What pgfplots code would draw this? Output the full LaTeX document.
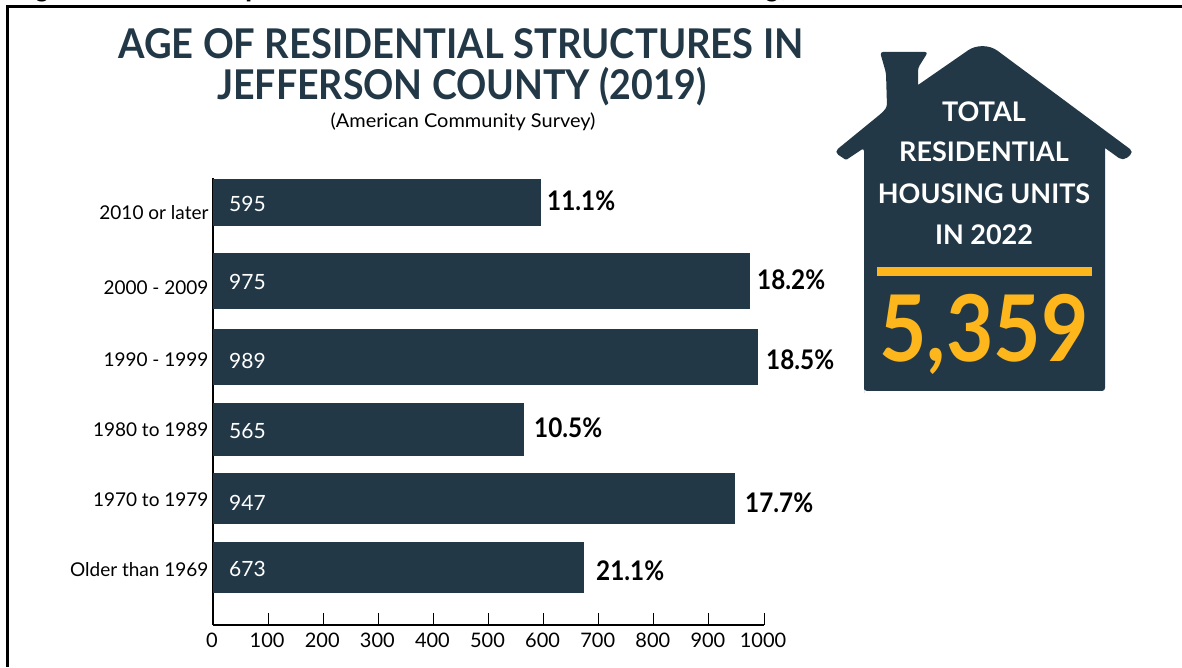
\documentclass[border=0pt]{standalone}
\usepackage{pgfplots}
\pgfplotsset{compat=1.18}
\usepackage{fontspec}
\setmainfont{Lato}
\newfontfamily\figfont{Liberation Sans}[BoldFont={Liberation Sans Bold}]
\definecolor{navy}{HTML}{223847}
\definecolor{gold}{HTML}{FDB71C}
\newcommand{\fs}[1]{\fontsize{#1}{#1}\selectfont}
\begin{document}
\begin{tikzpicture}
\path[use as bounding box] (0,0) rectangle (1182pt,667pt);
\begin{axis}[
  at={(213pt,42pt)}, anchor=south west,
  scale only axis, width=551pt, height=447pt,
  xmin=0, xmax=1000, ymin=178, ymax=625, y dir=reverse,
  axis x line=bottom, axis y line=left,
  axis line style={-, black, line width=1.2pt},
  xtick={0,100,...,1000},
  tick align=inside, major tick length=12pt,
  x tick style={black, line width=1pt},
  y tick style={draw=none},
  ytick={213,288,360,430,500,570},
  yticklabels={2010 or later,2000 - 2009,1990 - 1999,1980 to 1989,1970 to 1979,Older than 1969},
  yticklabel style={font=\fs{19}, xshift=-1pt},
  xticklabel style={font=\fs{20}, yshift=-4pt, xshift=-1pt},
  /pgf/number format/assume math mode=true,
  /pgf/number format/1000 sep={},
  clip=false,
  every axis plot/.append style={xbar, bar shift=0pt, fill=navy, draw=none},
]
\addplot[bar width=47pt] coordinates {(595,202.5)};
\addplot[bar width=56pt] coordinates {(975,281)};
\addplot[bar width=56pt] coordinates {(989,357)};
\addplot[bar width=53pt] coordinates {(565,429.5)};
\addplot[bar width=51pt] coordinates {(947,498.5)};
\addplot[bar width=51pt] coordinates {(673,567.5)};
\end{axis}

\begin{scope}[x=1pt,y=-1pt,yshift=667pt]
% heading rule and side rule
\draw[black, line width=2.4pt] (1182,6.5) -- (7.5,6.5) -- (7.5,667);
% descenders of the running head, cut by the page edge
\begin{scope}
\clip (0,0) rectangle (1182,5);
\node[anchor=base west, inner sep=0pt, font=\figfont\bfseries\fs{26}] at (34,-3) {g};
\node[anchor=base west, inner sep=0pt, font=\figfont\bfseries\fs{26}] at (245,-3) {p};
\node[anchor=base west, inner sep=0pt, font=\figfont\bfseries\fs{26}] at (764,-3) {g,};
\end{scope}
% headline
\node[anchor=base, inner sep=0pt, text=navy, font=\bfseries\fs{41}] at (461,59) {\scalebox{0.93}[1]{AGE OF RESIDENTIAL STRUCTURES IN}};
\node[anchor=base, inner sep=0pt, text=navy, font=\bfseries\fs{41}] at (462,100) {\scalebox{0.915}[1]{JEFFERSON COUNTY (2019)}};
\node[anchor=base, inner sep=0pt, font=\fs{19}] at (463,128) {\scalebox{1.05}[1]{(American Community Survey)}};
% counts inside the bars
\foreach \t/\y in {595/212,975/290,989/369,565/438,947/510,673/576}
  \node[anchor=base west, inner sep=0pt, text=white, font=\fs{21}] at (229,\y) {\t};
% shares beside the bars
\foreach \t/\x/\y in {11.1/547/211,18.2/757/290,18.5/766/370,10.5/534/437,17.7/745/512,21.1/596/580}
  \node[anchor=base west, inner sep=0pt, font=\bfseries\fs{27}] at (\x,\y) {\scalebox{0.9}[1]{\t\%}};
% house panel
\fill[navy] (864,390) [rounded corners=3pt] -- (864,391) -- (864,148) [rounded corners=1pt] -- (846,160)
  [rounded corners=5pt] -- (834,152) -- (883,112) [rounded corners=3pt] -- (887,107) -- (886,73)
  -- (880,52) -- (928,52) -- (918,68) [sharp corners] -- (918,85)
  [rounded corners=18pt] -- (983,40) [rounded corners=5pt] -- (1134,152) -- (1123,161)
  [sharp corners] -- (1105,148) [rounded corners=3pt] -- (1105,391) -- (864,391) -- cycle;
\foreach \t/\y in {TOTAL/122,RESIDENTIAL/162,HOUSING UNITS/204,IN 2022/245}
  \node[anchor=base, inner sep=0pt, text=white, font=\bfseries\fs{27}] at (984,\y) {\t};
\fill[gold] (876.7,267) rectangle (1091.7,275.7);
\node[anchor=base, inner sep=0pt, text=gold, font=\bfseries\fs{92}] at (984,362) {\scalebox{0.89}[1]{5,359}};
\end{scope}
\end{tikzpicture}
\end{document}
